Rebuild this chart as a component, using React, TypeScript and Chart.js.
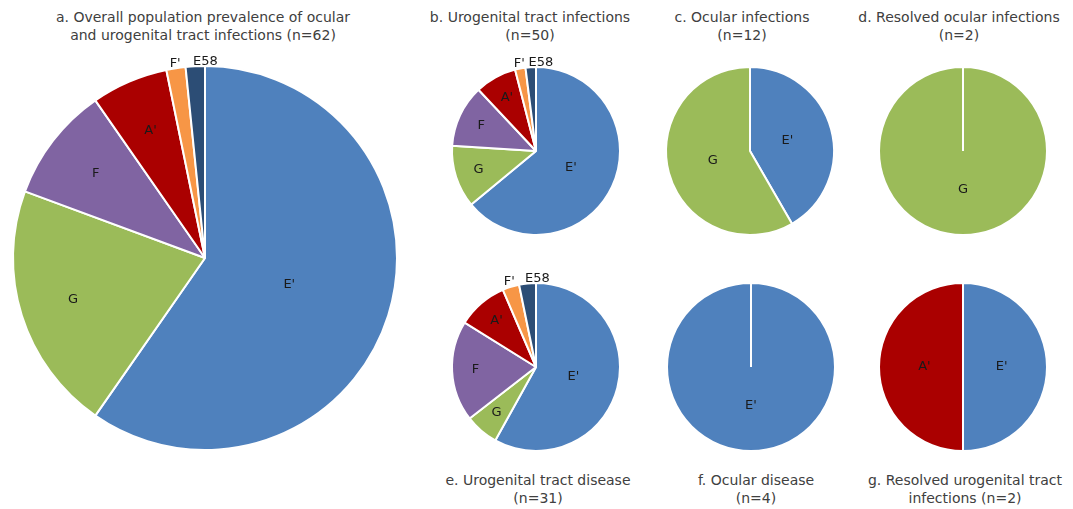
import React, { useEffect, useRef } from "react";
import { Chart, registerables } from "chart.js";

Chart.register(...registerables);

// ---- data ----
const strainOrder = ["E'", "G", "F", "A'", "F'", "E58"];
const strainColors = ["#4F81BD", "#9BBB59", "#8064A2", "#AA0000", "#F79646", "#2C4D75"];

const overallLabels = ["E'", "G", "F", "A'", "F'", "E58"];
const overallValues = [37, 13, 6, 4, 1, 1];

const urogenitalInfectionLabels = ["E'", "G", "F", "A'", "F'", "E58"];
const urogenitalInfectionValues = [32, 6, 6, 4, 1, 1];

const ocularInfectionLabels = ["E'", "G"];
const ocularInfectionValues = [5, 7];

const resolvedOcularLabels = ["G"];
const resolvedOcularValues = [2];

const urogenitalDiseaseLabels = ["E'", "G", "F", "A'", "F'", "E58"];
const urogenitalDiseaseValues = [18, 2, 6, 3, 1, 1];

const ocularDiseaseLabels = ["E'"];
const ocularDiseaseValues = [4];

const resolvedUrogenitalLabels = ["E'", "A'"];
const resolvedUrogenitalValues = [1, 1];

const titles = {
  a: ["a. Overall population prevalence of ocular", "and urogenital tract infections (n=62)"],
  b: ["b. Urogenital tract infections", "(n=50)"],
  c: ["c. Ocular infections", "(n=12)"],
  d: ["d. Resolved ocular infections", "(n=2)"],
  e: ["e. Urogenital tract disease", "(n=31)"],
  f: ["f. Ocular disease", "(n=4)"],
  g: ["g. Resolved urogenital tract", "infections (n=2)"],
};

const FONT = "'DejaVu Sans', Verdana, sans-serif";

const colorFor = (label: string) => strainColors[strainOrder.indexOf(label)];

const sliceLabelPlugin = {
  id: "sliceLabels",
  afterDatasetsDraw(chart: any) {
    const ctx = chart.ctx;
    const values = chart.data.datasets[0].data as number[];
    const labels = chart.data.labels as string[];
    const total = values.reduce((s, v) => s + v, 0);
    const meta = chart.getDatasetMeta(0);
    ctx.save();
    ctx.font = `13px ${FONT}`;
    ctx.fillStyle = "#1a1a1a";
    ctx.textBaseline = "middle";
    meta.data.forEach((arc: any, i: number) => {
      const p = arc.getProps(["x", "y", "startAngle", "endAngle", "outerRadius"], true);
      const mid = (p.startAngle + p.endAngle) / 2;
      const frac = values[i] / total;
      const R = p.outerRadius;
      let r: number;
      let align: CanvasTextAlign = "center";
      let dx = 0;
      if (frac < 0.05) {
        r = R + 5;
        if (i === values.length - 1) {
          align = "left";
          dx = -2;
        }
      } else if (frac >= 0.35) {
        r = 0.46 * R;
      } else {
        r = 0.72 * R;
      }
      ctx.textAlign = align;
      ctx.fillText(labels[i], p.x + r * Math.cos(mid) + dx, p.y + r * Math.sin(mid));
    });
    ctx.restore();
  },
};

type PieProps = { labels: string[]; values: number[]; cx: number; cy: number; r: number };

function Pie({ labels, values, cx, cy, r }: PieProps) {
  const ref = useRef<HTMLCanvasElement | null>(null);
  const size = 2 * r + 40;
  useEffect(() => {
    if (!ref.current) return;
    const chart = new Chart(ref.current, {
      type: "pie",
      data: {
        labels,
        datasets: [
          {
            data: values,
            backgroundColor: labels.map(colorFor),
            borderColor: "#ffffff",
            borderWidth: 2,
          },
        ],
      },
      options: {
        animation: false,
        responsive: false,
        maintainAspectRatio: false,
        events: [],
        radius: r,
        layout: { padding: 0 },
        plugins: { legend: { display: false }, tooltip: { enabled: false }, title: { display: false } },
      } as any,
      plugins: [sliceLabelPlugin],
    });
    return () => chart.destroy();
  }, []);
  return (
    <canvas
      ref={ref}
      width={size}
      height={size}
      style={{ position: "absolute", left: cx - size / 2, top: cy - size / 2, width: size, height: size }}
    />
  );
}

function Title({ lines, cx, top }: { lines: string[]; cx: number; top: number }) {
  return (
    <div
      style={{
        position: "absolute",
        left: cx - 180,
        width: 360,
        top,
        textAlign: "center",
        fontFamily: FONT,
        fontSize: 14,
        lineHeight: "18px",
        color: "#404040",
        whiteSpace: "nowrap",
      }}
    >
      {lines.map((l, i) => (
        <div key={i}>{l}</div>
      ))}
    </div>
  );
}

export default function App() {
  return (
    <div
      style={{
        position: "absolute",
        left: 0,
        top: 0,
        width: 1073,
        height: 509,
        background: "#ffffff",
        overflow: "hidden",
      }}
    >
      <Pie labels={overallLabels} values={overallValues} cx={205} cy={258} r={192} />
      <Pie labels={urogenitalInfectionLabels} values={urogenitalInfectionValues} cx={536} cy={151} r={84} />
      <Pie labels={ocularInfectionLabels} values={ocularInfectionValues} cx={750} cy={151} r={84} />
      <Pie labels={resolvedOcularLabels} values={resolvedOcularValues} cx={963} cy={151} r={84} />
      <Pie labels={urogenitalDiseaseLabels} values={urogenitalDiseaseValues} cx={536} cy={367} r={84} />
      <Pie labels={ocularDiseaseLabels} values={ocularDiseaseValues} cx={751} cy={367} r={84} />
      <Pie labels={resolvedUrogenitalLabels} values={resolvedUrogenitalValues} cx={963} cy={367} r={84} />

      <Title lines={titles.a} cx={203} top={8} />
      <Title lines={titles.b} cx={530} top={8} />
      <Title lines={titles.c} cx={742} top={8} />
      <Title lines={titles.d} cx={959} top={8} />
      <Title lines={titles.e} cx={538} top={471} />
      <Title lines={titles.f} cx={756} top={471} />
      <Title lines={titles.g} cx={965} top={471} />
    </div>
  );
}
